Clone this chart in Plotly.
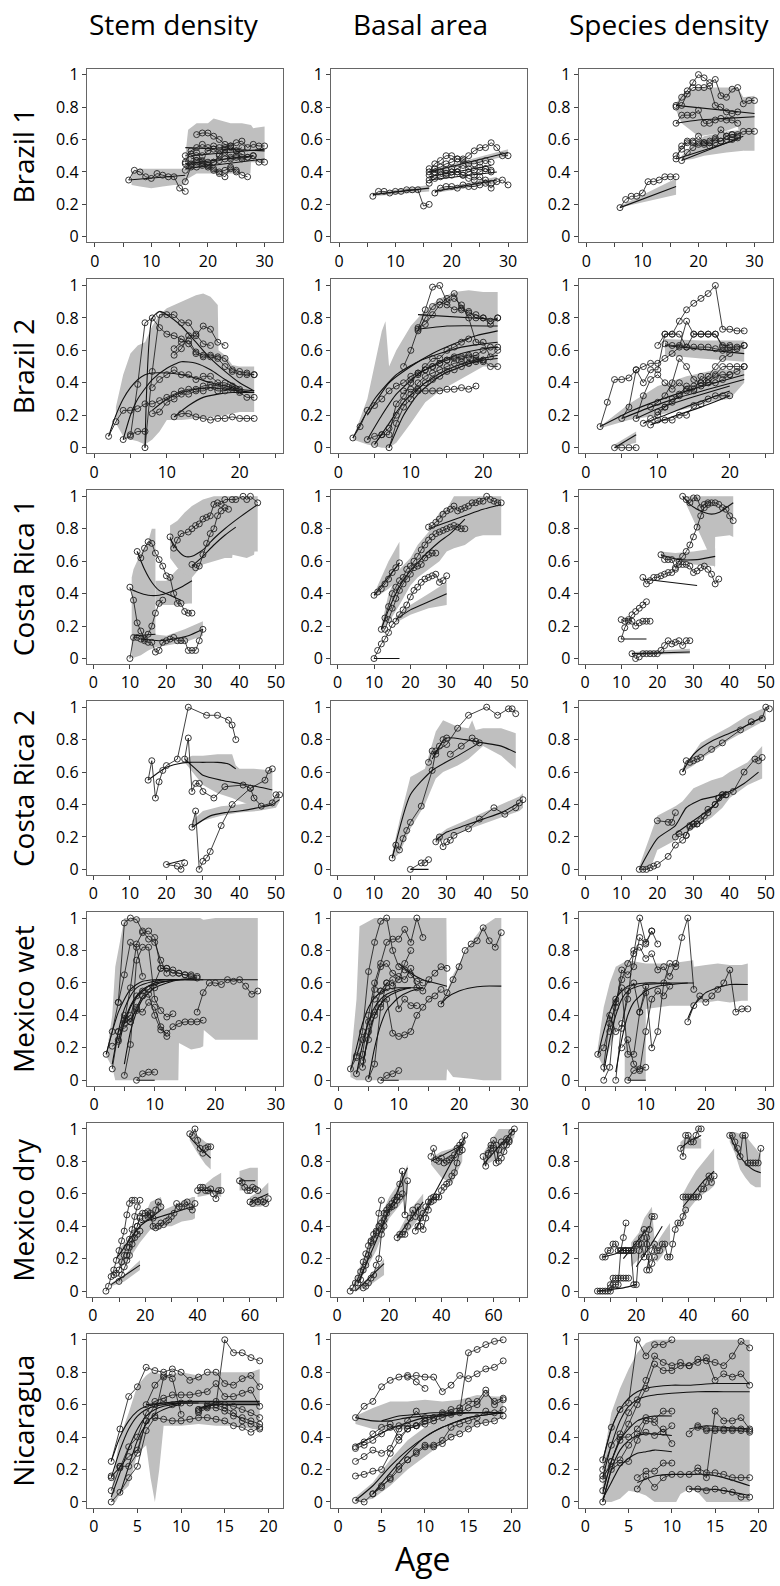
import plotly.graph_objects as go


def yrs(a, ys):
    return (list(range(a, a + len(ys))), ys)

# ---------------- Brazil 1 ----------------
B1S_OBS = [
    yrs(6, [0.35, 0.41, 0.40, 0.37, 0.36, 0.39, 0.38, 0.37, 0.37, 0.30, 0.28]),
    yrs(18, [0.63, 0.64, 0.64, 0.62, 0.60, 0.57, 0.56, 0.58, 0.59, 0.55, 0.57, 0.56, 0.56]),
    yrs(16, [0.46, 0.53, 0.55, 0.57, 0.55, 0.56, 0.55, 0.55, 0.56, 0.53, 0.55]),
    yrs(16, [0.41, 0.45, 0.47, 0.46, 0.44, 0.42, 0.40, 0.41, 0.43, 0.41, 0.38, 0.37]),
    yrs(16, [0.34, 0.43, 0.43, 0.44, 0.43, 0.41, 0.39, 0.37, 0.42, 0.40]),
    yrs(16, [0.50, 0.51, 0.52, 0.50, 0.53, 0.54, 0.51, 0.52, 0.48, 0.49, 0.48, 0.49, 0.50, 0.46, 0.46]),
    yrs(17, [0.48, 0.49, 0.47, 0.46, 0.46, 0.47, 0.48, 0.49, 0.50, 0.49, 0.49, 0.50]),
    yrs(16, [0.45, 0.44, 0.46, 0.45, 0.44, 0.46, 0.50, 0.54, 0.55, 0.53, 0.51]),
]
B1S_FIT = [([6, 16], [0.35, 0.38]), ([16, 30], [0.42, 0.48]), ([16, 30], [0.55, 0.53]),
           ([17, 30], [0.50, 0.54]), ([16, 28], [0.45, 0.50])]
B1S_BAND = [
    ([6.5, 8, 10, 12, 14, 16], [0.32, 0.31, 0.30, 0.31, 0.32, 0.32], [0.40, 0.42, 0.42, 0.42, 0.42, 0.42]),
    ([16, 16.5, 18, 20, 21, 24, 26, 27.5, 27.6, 28, 30],
     [0.33, 0.36, 0.39, 0.39, 0.39, 0.39, 0.39, 0.39, 0.46, 0.46, 0.46],
     [0.50, 0.66, 0.70, 0.70, 0.73, 0.70, 0.70, 0.69, 0.69, 0.67, 0.68]),
]

B1B_OBS = [
    yrs(6, [0.25, 0.28, 0.28, 0.27, 0.28, 0.28, 0.29, 0.29, 0.29, 0.19, 0.20]),
    yrs(16, [0.40, 0.45, 0.47, 0.50, 0.50, 0.48, 0.47, 0.50, 0.53, 0.55, 0.55, 0.58, 0.55, 0.50, 0.50]),
    yrs(16, [0.38, 0.42, 0.43, 0.45, 0.46, 0.48, 0.48, 0.45, 0.45, 0.46, 0.47, 0.46]),
    yrs(16, [0.35, 0.38, 0.40, 0.41, 0.40, 0.42, 0.44, 0.42, 0.38, 0.40, 0.42, 0.41]),
    yrs(16, [0.33, 0.36, 0.37, 0.38, 0.38, 0.40, 0.38, 0.36, 0.35, 0.37, 0.33, 0.30, 0.34, 0.35, 0.32]),
    yrs(17, [0.27, 0.30, 0.31, 0.31, 0.30, 0.32, 0.31, 0.31, 0.32, 0.35, 0.33]),
    yrs(16, [0.42, 0.40, 0.40, 0.39, 0.42, 0.40, 0.38, 0.40, 0.41, 0.43, 0.42, 0.40]),
]
B1B_FIT = [([6, 16], [0.26, 0.30]), ([16, 30], [0.40, 0.52]), ([16, 27], [0.37, 0.44]),
           ([17, 28], [0.28, 0.35]), ([16, 28], [0.35, 0.40])]
B1B_BAND = [([6, 16], [0.25, 0.28], [0.27, 0.32]), ([16, 30], [0.39, 0.50], [0.41, 0.54]),
            ([17, 28], [0.27, 0.33], [0.29, 0.37])]

B1D_OBS = [
    yrs(6, [0.18, 0.23, 0.25, 0.25, 0.27, 0.34, 0.34, 0.35, 0.37, 0.37, 0.37]),
    yrs(16, [0.80, 0.86, 0.90, 0.95, 1.00, 0.98, 0.95, 0.97, 0.87, 0.86, 0.91, 0.92, 0.82, 0.84, 0.84]),
    yrs(16, [0.81, 0.81, 0.88, 0.92, 0.92, 0.92, 0.93, 0.81, 0.80, 0.77, 0.76, 0.77]),
    yrs(16, [0.70, 0.75, 0.75, 0.75, 0.78, 0.70, 0.70, 0.72, 0.73, 0.72, 0.72, 0.70]),
    yrs(16, [0.48, 0.56, 0.59, 0.59, 0.62, 0.58, 0.58, 0.60, 0.66, 0.62, 0.63, 0.63, 0.65, 0.65, 0.65]),
    yrs(17, [0.47, 0.52, 0.55, 0.58, 0.57, 0.59, 0.61, 0.59, 0.60, 0.60, 0.61]),
    yrs(16, [0.50, 0.54, 0.58, 0.58, 0.57, 0.58, 0.56, 0.58, 0.59, 0.62, 0.63, 0.62]),
]
B1D_FIT = [([6, 16], [0.18, 0.31]), ([16, 30], [0.81, 0.76]), ([16, 20, 25, 30], [0.70, 0.72, 0.73, 0.74]),
           ([17, 28], [0.47, 0.62]), ([16, 27], [0.48, 0.60])]
B1D_BAND = [
    ([6, 16], [0.18, 0.26], [0.19, 0.36]),
    ([16, 17, 20, 24, 27, 28, 30], [0.78, 0.70, 0.62, 0.64, 0.68, 0.53, 0.53], [0.82, 0.88, 0.92, 0.92, 0.92, 0.86, 0.87]),
    ([17, 19, 21, 25, 28], [0.47, 0.48, 0.50, 0.52, 0.53], [0.50, 0.57, 0.62, 0.65, 0.66]),
]

# ---------------- Brazil 2 ----------------
B2S_OBS = [
    yrs(2, [0.07, 0.16, 0.23, 0.23, 0.24, 0.27, 0.27, 0.29, 0.31, 0.33, 0.35, 0.36, 0.36, 0.38, 0.39, 0.38, 0.37, 0.36, 0.35]),
    yrs(4, [0.05, 0.07, 0.39, 0.77, 0.80, 0.74, 0.70, 0.69, 0.67, 0.64, 0.58, 0.56, 0.56, 0.55, 0.50, 0.47, 0.45, 0.45, 0.45]),
    yrs(5, [0.08, 0.10, 0.10]),
    yrs(7, [0.00, 0.47, 0.82, 0.82, 0.82, 0.77, 0.77, 0.70, 0.64, 0.63]),
    yrs(8, [0.37, 0.42, 0.45, 0.48, 0.45, 0.45, 0.42, 0.44, 0.44, 0.40, 0.40, 0.38, 0.36]),
    yrs(8, [0.21, 0.22, 0.28, 0.30, 0.33, 0.33, 0.35, 0.35, 0.37, 0.35, 0.35, 0.37, 0.34, 0.31, 0.31]),
    yrs(11, [0.19, 0.21, 0.21, 0.19, 0.18, 0.17, 0.18, 0.18, 0.19, 0.18, 0.18, 0.18]),
    yrs(11, [0.57, 0.61, 0.69, 0.69, 0.75, 0.73, 0.65, 0.63]),
    yrs(11, [0.61, 0.65, 0.66, 0.59, 0.57, 0.57, 0.56, 0.55, 0.48, 0.47, 0.46, 0.45]),
]
B2S_FIT = [
    ([2, 3, 4, 5, 6, 7, 8, 10, 12, 14, 16, 18, 20, 22], [0.07, 0.20, 0.30, 0.37, 0.42, 0.45, 0.46, 0.46, 0.45, 0.43, 0.40, 0.38, 0.36, 0.35]),
    ([4, 5, 6, 8, 10, 12, 14, 16, 18, 20], [0.05, 0.20, 0.30, 0.42, 0.49, 0.53, 0.52, 0.48, 0.42, 0.37]),
    ([7, 8, 9, 10, 12, 14, 16, 18, 20, 22], [0.00, 0.80, 0.84, 0.82, 0.75, 0.65, 0.55, 0.47, 0.40, 0.35]),
    ([8, 10, 12, 14, 16, 18, 20, 22], [0.23, 0.30, 0.34, 0.36, 0.37, 0.36, 0.35, 0.34]),
    ([11, 13, 15, 17, 19, 22], [0.19, 0.26, 0.31, 0.33, 0.34, 0.34]),
]
B2S_BAND = [
    ([3, 4, 5, 6, 7, 8, 9, 10, 12, 14, 15, 16, 17, 17.1, 18, 19, 20, 22],
     [0.15, 0.07, 0.05, 0.04, 0.02, 0.05, 0.10, 0.17, 0.17, 0.18, 0.18, 0.19, 0.19, 0.19, 0.20, 0.21, 0.22, 0.22],
     [0.25, 0.45, 0.58, 0.63, 0.65, 0.75, 0.82, 0.86, 0.90, 0.94, 0.95, 0.93, 0.88, 0.60, 0.57, 0.51, 0.50, 0.50]),
]

B2B_OBS = [
    yrs(9, [0.50, 0.60, 0.73, 0.85, 0.99, 1.00, 0.90, 0.92, 0.88, 0.80, 0.65, 0.65, 0.56, 0.60]),
    yrs(11, [0.74, 0.76, 0.82, 0.88, 0.92, 0.95, 0.85, 0.83, 0.82, 0.80, 0.78, 0.80]),
    yrs(11, [0.72, 0.80, 0.87, 0.90, 0.88, 0.85, 0.86, 0.84, 0.80, 0.80, 0.76, 0.80]),
    yrs(2, [0.06, 0.13, 0.23, 0.26, 0.30, 0.35, 0.38, 0.40, 0.44, 0.46, 0.48, 0.50, 0.52, 0.54, 0.55, 0.56, 0.57, 0.55, 0.54, 0.50, 0.50]),
    yrs(4, [0.05, 0.07, 0.08, 0.08, 0.27, 0.32, 0.40, 0.46, 0.48, 0.50, 0.52, 0.54, 0.56, 0.55, 0.56, 0.57, 0.60, 0.62, 0.62]),
    yrs(5, [0.02, 0.08, 0.12, 0.20, 0.28, 0.33, 0.40, 0.44, 0.46, 0.48, 0.50, 0.52, 0.53, 0.52, 0.54, 0.54]),
    yrs(7, [0.00, 0.15, 0.25, 0.30, 0.36, 0.40, 0.42, 0.44, 0.47, 0.48, 0.50, 0.52, 0.53, 0.53]),
    yrs(9, [0.35, 0.36, 0.35, 0.35, 0.35, 0.35, 0.36, 0.36, 0.37, 0.36, 0.38]),
    yrs(10, [0.42, 0.45, 0.50, 0.55, 0.55, 0.60, 0.62, 0.65, 0.67]),
]
B2B_FIT = [
    ([11, 22], [0.82, 0.79]),
    ([11, 15, 22], [0.73, 0.75, 0.75]),
    ([4, 7, 10, 13, 16, 19, 22], [0.20, 0.40, 0.50, 0.58, 0.64, 0.69, 0.72]),
    ([2, 5, 8, 11, 14, 17, 20, 22], [0.06, 0.30, 0.45, 0.53, 0.58, 0.62, 0.64, 0.65]),
    ([4, 6, 8, 11, 14, 17, 20, 22], [0.05, 0.20, 0.33, 0.45, 0.53, 0.58, 0.61, 0.62]),
    ([5, 7, 9, 12, 15, 18, 22], [0.02, 0.15, 0.28, 0.40, 0.48, 0.53, 0.57]),
    ([7, 9, 11, 14, 17, 20, 22], [0.00, 0.20, 0.33, 0.44, 0.50, 0.54, 0.55]),
]
B2B_BAND = [
    ([2, 4, 6, 6.5, 7, 8, 10, 12, 14, 16, 18, 20, 22],
     [0.05, 0.02, 0.00, 0.00, 0.00, 0.03, 0.15, 0.28, 0.35, 0.40, 0.45, 0.50, 0.50],
     [0.06, 0.30, 0.72, 0.78, 0.50, 0.60, 0.75, 0.85, 0.92, 0.96, 0.97, 0.96, 0.96]),
]

B2D_OBS = [
    yrs(2, [0.13, 0.28, 0.42, 0.42, 0.43, 0.48, 0.50, 0.52, 0.52, 0.55, 0.58, 0.62, 0.78, 0.70, 0.70, 0.70, 0.70, 0.62, 0.62, 0.62, 0.63]),
    yrs(10, [0.63, 0.70, 0.70, 0.78, 0.85, 0.89, 0.92, 0.95, 1.00, 0.73, 0.73, 0.72, 0.72]),
    yrs(5, [0.18, 0.25, 0.48, 0.40, 0.48, 0.48, 0.70, 0.70, 0.70, 0.62, 0.70, 0.70, 0.70, 0.70, 0.63, 0.63]),
    yrs(4, [0.0, 0.0, 0.0, 0.0]),
    yrs(7, [0.18, 0.32, 0.42, 0.45, 0.40, 0.36, 0.40, 0.36, 0.35, 0.44, 0.42, 0.45, 0.50, 0.50, 0.50, 0.50]),
    yrs(8, [0.15, 0.18, 0.20, 0.25, 0.28, 0.32, 0.35, 0.36, 0.38, 0.40, 0.40, 0.42, 0.45, 0.47, 0.50]),
    yrs(9, [0.14, 0.17, 0.17, 0.17, 0.20, 0.20, 0.26, 0.27, 0.30, 0.32, 0.32, 0.32]),
    yrs(9, [0.25, 0.28, 0.32, 0.40, 0.55, 0.50, 0.42, 0.40, 0.44, 0.50, 0.55, 0.58]),
    yrs(10, [0.22, 0.25, 0.30, 0.33, 0.38, 0.38, 0.40, 0.40, 0.44, 0.45, 0.45]),
    yrs(11, [0.64, 0.63, 0.63, 0.62, 0.62, 0.62, 0.62, 0.61, 0.60, 0.60, 0.61, 0.63]),
]
B2D_FIT = [
    ([2, 6, 10, 14, 18, 22], [0.13, 0.22, 0.29, 0.35, 0.40, 0.45]),
    ([5, 9, 13, 17, 22], [0.18, 0.25, 0.31, 0.36, 0.42]),
    ([7, 10, 14, 20], [0.18, 0.24, 0.30, 0.38]),
    ([8, 11, 15, 20], [0.15, 0.20, 0.27, 0.35]),
    ([9, 12, 16, 20], [0.14, 0.19, 0.25, 0.32]),
    ([11, 22], [0.63, 0.58]),
    ([4, 7], [0.0, 0.08]),
]
B2D_BAND = [
    ([2, 6, 10, 14, 18, 20, 22], [0.12, 0.17, 0.20, 0.24, 0.29, 0.30, 0.40], [0.13, 0.27, 0.38, 0.44, 0.48, 0.48, 0.48]),
    ([11, 16, 22], [0.57, 0.55, 0.53], [0.67, 0.66, 0.66]),
    ([4, 7], [0.0, 0.03], [0.02, 0.10]),
]

# ---------------- Costa Rica 1 ----------------
C1S_OBS = [
    yrs(10, [0.0, 0.13, 0.13, 0.12, 0.11, 0.10, 0.10, 0.04, 0.05, 0.10, 0.11, 0.12, 0.13, 0.11, 0.11, 0.11, 0.05, 0.05, 0.05, 0.11, 0.18]),
    yrs(10, [0.44, 0.36, 0.22, 0.17, 0.12, 0.15, 0.20, 0.28, 0.34, 0.36]),
    yrs(12, [0.66, 0.62, 0.68, 0.72, 0.71, 0.65, 0.61, 0.57, 0.51, 0.50, 0.40, 0.34, 0.34, 0.29, 0.28, 0.28]),
    ([21, 22, 23, 24, 26, 27, 28, 29, 30, 31, 32, 33, 34, 35, 36, 38, 39, 41, 42, 43, 45],
     [0.75, 0.68, 0.73, 0.77, 0.78, 0.80, 0.82, 0.83, 0.86, 0.87, 0.88, 0.95, 0.96, 0.95, 0.98, 0.98, 0.98, 1.0, 0.98, 1.0, 0.96]),
    yrs(27, [0.58, 0.56, 0.57, 0.64, 0.71, 0.77, 0.80, 0.88, 0.91, 0.93, 0.92]),
]
C1S_FIT = [
    ([11, 17], [0.14, 0.15]),
    ([13, 18, 22, 26, 30], [0.12, 0.11, 0.12, 0.14, 0.18]),
    ([10, 12, 15, 18, 21, 24, 27], [0.43, 0.41, 0.39, 0.39, 0.41, 0.44, 0.48]),
    ([12, 14, 16, 18, 20, 22, 24], [0.66, 0.55, 0.47, 0.42, 0.40, 0.38, 0.36]),
    ([21, 23, 25, 27, 30, 33, 36, 40, 45], [0.74, 0.67, 0.63, 0.63, 0.67, 0.74, 0.80, 0.87, 0.95]),
    ([27, 30, 33, 36, 39], [0.57, 0.63, 0.70, 0.76, 0.81]),
]
C1S_BAND = [
    ([10.5, 11, 13, 15, 16, 17], [0.0, 0.0, 0.02, 0.05, 0.06, 0.07], [0.50, 0.55, 0.65, 0.72, 0.80, 0.80]),
    ([17, 20, 23, 26, 27], [0.33, 0.33, 0.33, 0.34, 0.34], [0.48, 0.48, 0.55, 0.60, 0.62]),
    ([21, 23, 25, 27, 30, 33, 36, 38, 38.1, 42, 44, 44.1, 45],
     [0.62, 0.56, 0.52, 0.50, 0.58, 0.60, 0.62, 0.62, 0.64, 0.62, 0.64, 0.66, 0.66],
     [0.82, 0.85, 0.90, 0.94, 0.98, 1.0, 1.0, 1.0, 1.0, 1.0, 1.0, 1.0, 1.0]),
    ([12, 17, 20, 25, 30], [0.08, 0.07, 0.08, 0.10, 0.14], [0.16, 0.15, 0.14, 0.18, 0.23]),
]

C1B_OBS = [
    yrs(10, [0.0, 0.05, 0.09, 0.12, 0.16, 0.21, 0.23, 0.27, 0.30, 0.33, 0.38, 0.42, 0.44, 0.47, 0.49, 0.50, 0.51, 0.52, 0.47, 0.48, 0.51]),
    yrs(10, [0.39, 0.41, 0.43, 0.46, 0.49, 0.53, 0.56, 0.59]),
    yrs(13, [0.18, 0.24, 0.31, 0.37, 0.42, 0.46, 0.49, 0.52, 0.56, 0.57, 0.58, 0.62, 0.64, 0.65, 0.65]),
    yrs(12, [0.18, 0.25, 0.32, 0.40, 0.44, 0.48, 0.50, 0.55, 0.57, 0.60, 0.63, 0.67, 0.70, 0.73, 0.75, 0.77, 0.78, 0.79, 0.80, 0.81, 0.82, 0.81, 0.80, 0.80]),
    yrs(25, [0.81, 0.82, 0.84, 0.86, 0.89, 0.91, 0.92, 0.94, 0.91, 0.92, 0.93, 0.94, 0.96, 0.96, 0.97, 0.97, 1.0, 0.98, 0.97, 0.96, 0.96]),
]
C1B_FIT = [
    ([10, 17], [0.0, 0.0]),
    ([10, 17], [0.39, 0.59]),
    ([16, 20, 25, 30], [0.24, 0.30, 0.35, 0.40]),
    ([12, 14, 16, 18, 20, 22, 25, 28, 31, 35], [0.18, 0.30, 0.40, 0.48, 0.54, 0.59, 0.66, 0.72, 0.77, 0.86]),
    ([25, 30, 35, 40, 45], [0.80, 0.84, 0.88, 0.92, 0.95]),
]
C1B_BAND = [
    ([10, 12, 14, 16, 17], [0.38, 0.40, 0.43, 0.47, 0.50], [0.40, 0.50, 0.60, 0.68, 0.72]),
    ([12, 14, 17, 20, 22, 25, 28, 30, 32, 35, 38, 40, 45],
     [0.17, 0.22, 0.33, 0.45, 0.50, 0.55, 0.60, 0.66, 0.68, 0.70, 0.75, 0.76, 0.76],
     [0.20, 0.40, 0.55, 0.62, 0.70, 0.78, 0.90, 0.92, 1.0, 1.0, 1.0, 1.0, 1.0]),
    ([16, 20, 25, 30], [0.22, 0.27, 0.31, 0.33], [0.26, 0.33, 0.40, 0.47]),
]

C1D_OBS = [
    yrs(10, [0.12, 0.19, 0.23, 0.27, 0.29, 0.31, 0.33, 0.35]),
    yrs(10, [0.24, 0.23, 0.24, 0.23, 0.20, 0.22, 0.23, 0.23, 0.23]),
    yrs(13, [0.03, 0.0, 0.01, 0.03, 0.03, 0.03, 0.03, 0.03, 0.05, 0.08, 0.11, 0.09, 0.10, 0.11, 0.08, 0.11, 0.11]),
    yrs(16, [0.50, 0.46, 0.48, 0.50, 0.50, 0.51, 0.52, 0.53, 0.53, 0.55, 0.58, 0.58, 0.58, 0.57, 0.53, 0.54, 0.56, 0.57, 0.55, 0.52, 0.46, 0.49]),
    yrs(21, [0.64, 0.61, 0.61, 0.61, 0.56, 0.60, 0.63, 0.66, 0.70, 0.75, 0.81, 0.88, 0.93, 0.95]),
    yrs(27, [1.0, 0.98, 0.96, 0.99, 0.99, 0.93, 0.95, 0.96, 0.96, 0.96, 0.95, 0.93, 0.92, 0.88, 0.85]),
]
C1D_FIT = [
    ([10, 17], [0.12, 0.12]),
    ([13, 29], [0.03, 0.04]),
    ([16, 31], [0.49, 0.45]),
    ([21, 26, 31, 36], [0.64, 0.61, 0.61, 0.63]),
    ([27, 29, 31, 33, 35, 37, 39, 41], [1.0, 0.95, 0.92, 0.90, 0.89, 0.90, 0.93, 0.96]),
]
C1D_BAND = [
    ([13, 29], [0.02, 0.03], [0.04, 0.06]),
    ([21, 25, 30, 36], [0.62, 0.60, 0.58, 0.57], [0.66, 0.65, 0.66, 0.68]),
    ([28, 30, 34, 35.9, 36, 40, 41], [0.95, 0.85, 0.66, 0.56, 0.75, 0.76, 0.75], [1, 1, 1, 1, 1, 1, 1]),
]

# ---------------- Costa Rica 2 ----------------
C2S_OBS = [
    ([15, 16, 17, 18, 19, 20, 23, 26, 31, 34, 37, 38, 39],
     [0.55, 0.67, 0.44, 0.54, 0.61, 0.64, 0.68, 1.0, 0.95, 0.95, 0.92, 0.89, 0.80]),
    ([25, 26, 27, 28, 29, 30, 33, 36, 41, 43, 44, 46, 49, 50, 51],
     [0.68, 0.81, 0.48, 0.53, 0.53, 0.48, 0.44, 0.51, 0.52, 0.50, 0.44, 0.39, 0.41, 0.46, 0.46]),
    ([27, 28, 29, 30, 31, 32, 35, 38, 43, 47, 48, 49],
     [0.26, 0.36, 0.0, 0.05, 0.07, 0.11, 0.27, 0.40, 0.50, 0.55, 0.61, 0.62]),
    ([20, 23, 24, 25], [0.03, 0.02, 0.0, 0.04]),
]
C2S_FIT = [
    ([15, 18, 20, 23, 26, 30, 34, 37, 39], [0.55, 0.60, 0.63, 0.65, 0.66, 0.66, 0.66, 0.65, 0.62]),
    ([25, 28, 30, 35, 40, 45, 49], [0.68, 0.62, 0.58, 0.55, 0.53, 0.51, 0.49]),
    ([27, 32, 36, 40, 45, 49, 51], [0.26, 0.33, 0.35, 0.36, 0.38, 0.40, 0.43]),
    ([20, 25], [0.03, 0.06]),
]
C2S_BAND = [
    ([25, 27, 30, 34, 38, 39, 40, 44, 49],
     [0.66, 0.60, 0.52, 0.47, 0.44, 0.43, 0.42, 0.39, 0.38],
     [0.68, 0.70, 0.70, 0.71, 0.71, 0.64, 0.62, 0.62, 0.61]),
    ([27, 30, 35, 40, 45, 50, 51], [0.25, 0.30, 0.33, 0.35, 0.36, 0.38, 0.42], [0.30, 0.36, 0.39, 0.40, 0.42, 0.44, 0.46]),
]

C2B_OBS = [
    ([15, 16, 17, 18, 19, 20, 23, 26, 27, 30, 33, 36, 41, 44, 47, 48, 49],
     [0.07, 0.15, 0.12, 0.19, 0.24, 0.29, 0.39, 0.61, 0.73, 0.77, 0.87, 0.95, 1.0, 0.95, 0.99, 0.99, 0.96]),
    ([25, 26, 27, 28, 29, 30], [0.66, 0.73, 0.71, 0.76, 0.80, 0.81]),
    ([31, 34, 37, 38, 39], [0.71, 0.76, 0.81, 0.79, 0.78]),
    ([27, 28, 29, 30, 31, 32, 36, 39, 43, 46, 49, 50, 51],
     [0.17, 0.20, 0.14, 0.17, 0.18, 0.21, 0.25, 0.31, 0.38, 0.34, 0.38, 0.41, 0.43]),
    ([20, 23, 24, 25], [0.0, 0.04, 0.04, 0.06]),
]
C2B_FIT = [
    ([15, 20, 26, 33, 39], [0.07, 0.46, 0.61, 0.70, 0.78]),
    ([26, 28, 30, 35, 40, 45, 49], [0.68, 0.76, 0.81, 0.80, 0.78, 0.76, 0.72]),
    ([27, 30, 35, 40, 45, 50], [0.18, 0.23, 0.27, 0.31, 0.35, 0.41]),
    ([20, 25], [0.0, 0.0]),
]
C2B_BAND = [
    ([15, 17, 20, 24, 27, 29, 33, 36, 37, 38, 40, 45, 49],
     [0.06, 0.10, 0.25, 0.40, 0.56, 0.60, 0.64, 0.68, 0.70, 0.72, 0.76, 0.70, 0.62],
     [0.10, 0.30, 0.57, 0.62, 0.85, 0.92, 0.88, 0.87, 0.92, 0.86, 0.87, 0.87, 0.84]),
    ([27, 30, 35, 40, 45, 50, 51], [0.16, 0.19, 0.24, 0.28, 0.32, 0.36, 0.38], [0.20, 0.25, 0.30, 0.35, 0.40, 0.45, 0.47]),
]

C2D_OBS = [
    ([15, 16, 17, 18, 19, 20, 23, 25, 27, 28, 29, 30, 31, 33, 34, 36, 37, 38, 39, 41, 44, 47, 48, 49],
     [0.0, 0.0, 0.0, 0.01, 0.02, 0.03, 0.08, 0.15, 0.18, 0.21, 0.26, 0.28, 0.28, 0.33, 0.37, 0.40, 0.44, 0.46, 0.46, 0.48, 0.60, 0.68, 0.67, 0.69]),
    ([20, 23, 24, 25], [0.30, 0.29, 0.29, 0.35]),
    ([25, 26, 28, 29, 30, 31, 32, 34, 36, 37, 38, 39], [0.20, 0.22, 0.21, 0.27, 0.28, 0.28, 0.30, 0.35, 0.40, 0.44, 0.46, 0.46]),
    ([27, 28, 29, 30, 31, 32, 35, 38, 43, 46, 49, 50, 51],
     [0.60, 0.67, 0.66, 0.67, 0.68, 0.69, 0.74, 0.78, 0.86, 0.91, 0.93, 1.0, 0.99]),
]
C2D_FIT = [
    ([15, 20, 25, 28, 32, 36, 40, 44, 48], [0.0, 0.19, 0.27, 0.38, 0.43, 0.45, 0.48, 0.53, 0.60]),
    ([27, 29, 31, 35, 40, 45, 49], [0.60, 0.68, 0.73, 0.79, 0.84, 0.89, 0.94]),
    ([25, 30, 35, 39], [0.22, 0.30, 0.38, 0.48]),
]
C2D_BAND = [
    ([15, 18, 20, 25, 27, 30, 35, 38, 40, 45, 49],
     [0.0, 0.0, 0.12, 0.18, 0.22, 0.25, 0.32, 0.38, 0.44, 0.52, 0.56],
     [0.02, 0.20, 0.33, 0.39, 0.42, 0.50, 0.55, 0.57, 0.60, 0.66, 0.76]),
    ([27, 30, 32, 35, 40, 45, 50], [0.60, 0.64, 0.68, 0.72, 0.80, 0.86, 0.92], [0.62, 0.72, 0.78, 0.82, 0.88, 0.95, 1.0]),
]

# ---------------- Mexico wet ----------------
MWS_OBS = [
    yrs(2, [0.16, 0.30, 0.48, 0.97, 1.0, 0.99, 0.92, 0.87, 0.85, 0.74, 0.66]),
    yrs(3, [0.07, 0.30, 0.37, 0.57, 0.84, 0.91, 0.92, 0.88, 0.69, 0.69, 0.66, 0.66, 0.65, 0.65, 0.64]),
    yrs(4, [0.48, 0.65, 0.85, 0.82, 0.64]),
    yrs(5, [0.03, 0.22, 0.74, 0.82, 0.82, 0.50, 0.43, 0.39, 0.41]),
    yrs(3, [0.21, 0.24, 0.40, 0.36, 0.45, 0.52, 0.53, 0.40, 0.31, 0.29, 0.33, 0.35, 0.36, 0.36, 0.36, 0.37]),
    yrs(4, [0.25, 0.35, 0.38, 0.43, 0.42, 0.48, 0.45, 0.33, 0.27]),
    yrs(7, [0.0, 0.04, 0.05, 0.05]),
    yrs(17, [0.42, 0.54, 0.60, 0.60, 0.59, 0.62, 0.61, 0.62, 0.58, 0.53, 0.55]),
    yrs(5, [0.38, 0.40, 0.52, 0.55, 0.56, 0.60, 0.69, 0.69, 0.68, 0.66, 0.65, 0.64, 0.63]),
    yrs(4, [0.30, 0.32, 0.36, 0.44, 0.52, 0.56, 0.57]),
]
MWS_FIT = [
    ([2, 3, 4, 5, 6, 7, 8, 10, 12, 15, 20, 27], [0.16, 0.30, 0.42, 0.50, 0.56, 0.59, 0.61, 0.62, 0.62, 0.62, 0.62, 0.62]),
    ([3, 4, 5, 6, 7, 8, 10, 12, 15, 18], [0.10, 0.30, 0.44, 0.52, 0.57, 0.59, 0.61, 0.62, 0.62, 0.62]),
    ([4, 5, 6, 7, 8, 10, 12, 14, 17], [0.20, 0.36, 0.46, 0.52, 0.56, 0.60, 0.61, 0.62, 0.62]),
    ([5, 6, 7, 8, 10, 12, 14, 17], [0.10, 0.30, 0.42, 0.50, 0.57, 0.60, 0.62, 0.63]),
    ([5, 6, 7, 8, 9, 10, 12, 14, 17], [0.35, 0.45, 0.51, 0.55, 0.58, 0.59, 0.61, 0.62, 0.62]),
    ([7, 10], [0.0, 0.0]),
]
MWS_BAND = [
    ([2, 3, 3.5, 4, 5, 6, 10, 13.9, 14, 16, 17.5, 18, 18.1, 20, 27],
     [0.15, 0.08, 0.0, 0.0, 0.0, 0.0, 0.0, 0.0, 0.23, 0.19, 0.20, 0.21, 0.31, 0.25, 0.25],
     [0.15, 0.40, 0.70, 0.80, 1.0, 1.0, 1.0, 1.0, 1.0, 1.0, 1.0, 0.99, 0.99, 1.0, 1.0]),
]

MWB_OBS = [
    yrs(2, [0.07, 0.14, 0.30, 0.67, 0.85, 0.98, 1.0, 0.80, 0.70, 0.68, 0.65, 0.61, 0.60]),
    yrs(3, [0.04, 0.16, 0.40, 0.60, 0.72, 0.85, 0.87, 0.87, 0.93, 0.85, 1.0, 0.88]),
    yrs(4, [0.08, 0.30, 0.56, 0.70, 0.72, 0.66, 0.64, 0.62, 0.69, 0.57, 0.55, 0.62, 0.66, 0.70, 0.69]),
    yrs(5, [0.01, 0.10, 0.45, 0.60, 0.62, 0.44, 0.50, 0.46, 0.46]),
    yrs(4, [0.12, 0.25, 0.40, 0.47, 0.50, 0.29, 0.27, 0.28, 0.30, 0.40, 0.45, 0.50, 0.52, 0.56]),
    yrs(7, [0.0, 0.03, 0.04, 0.06]),
    yrs(17, [0.47, 0.54, 0.62, 0.70, 0.80, 0.84, 0.86, 0.94, 0.86, 0.82, 0.91]),
    yrs(3, [0.15, 0.25, 0.36, 0.42, 0.55, 0.57]),
    yrs(6, [0.50, 0.55, 0.60, 0.58, 0.62, 0.72, 0.80]),
]
MWB_FIT = [
    ([2, 3, 4, 5, 6, 7, 8, 10, 12, 14], [0.06, 0.20, 0.35, 0.45, 0.51, 0.54, 0.56, 0.57, 0.57, 0.57]),
    ([3, 4, 5, 6, 7, 8, 10, 12], [0.04, 0.22, 0.36, 0.45, 0.50, 0.53, 0.56, 0.57]),
    ([4, 5, 6, 7, 8, 10, 12], [0.08, 0.28, 0.40, 0.47, 0.51, 0.55, 0.57]),
    ([5, 6, 7, 8, 10, 12, 14], [0.01, 0.20, 0.34, 0.43, 0.51, 0.55, 0.57]),
    ([10, 12, 14, 16, 18], [0.72, 0.66, 0.62, 0.60, 0.58]),
    ([17, 18, 20, 22, 24, 27], [0.47, 0.51, 0.55, 0.57, 0.58, 0.58]),
    ([7, 10], [0.0, 0.0]),
]
MWB_BAND = [
    ([2, 3, 3.5, 4, 6, 10, 17.9, 18, 19, 22, 24, 26, 27],
     [0.02, 0.0, 0.0, 0.0, 0.0, 0.0, 0.0, 0.07, 0.02, 0.01, 0.0, 0.0, 0.0],
     [0.10, 0.50, 0.95, 0.96, 1.0, 1.0, 1.0, 0.55, 0.65, 0.85, 0.95, 1.0, 1.0]),
]

MWD_OBS = [
    yrs(2, [0.16, 0.20, 0.35, 0.45, 0.68, 0.65, 0.70, 0.88, 0.84, 0.92, 0.84]),
    yrs(3, [0.0, 0.08, 0.48, 0.62, 0.72, 0.78, 1.0, 0.85, 0.92]),
    yrs(3, [0.08, 0.40, 0.30, 0.32, 0.55, 0.60, 0.42, 0.58, 0.20, 0.30, 0.60, 0.72, 0.70, 0.88, 1.0, 0.56]),
    yrs(4, [0.30, 0.50, 0.57, 0.16, 0.16, 0.42, 0.54]),
    yrs(5, [0.0, 0.35, 0.50, 0.80, 0.82, 0.75, 0.78, 0.68, 0.70, 0.64, 0.72]),
    yrs(7, [0.0, 0.06, 0.07, 0.08]),
    yrs(17, [0.36, 0.46, 0.52, 0.48, 0.52, 0.56, 0.60, 0.68, 0.42, 0.44, 0.44]),
    yrs(6, [0.20, 0.25, 0.10, 0.06, 0.30, 0.50, 0.55, 0.52, 0.58]),
]
MWD_FIT = [
    ([2, 3, 4, 5, 6, 7, 8, 10, 12, 15, 18], [0.15, 0.30, 0.42, 0.50, 0.55, 0.58, 0.59, 0.60, 0.60, 0.60, 0.60]),
    ([3, 4, 5, 6, 7, 8, 10, 14], [0.05, 0.25, 0.40, 0.50, 0.55, 0.57, 0.59, 0.60]),
    ([5, 6, 7, 8, 10, 12, 14, 17], [0.05, 0.25, 0.40, 0.48, 0.55, 0.58, 0.59, 0.60]),
    ([17, 18, 20, 22, 24, 27], [0.38, 0.46, 0.54, 0.57, 0.59, 0.59]),
    ([7, 10], [0.0, 0.0]),
]
MWD_BAND = [
    ([2, 3, 4, 5, 6, 7, 10, 14, 17.9, 18, 20, 22, 24, 26, 27],
     [0.15, 0.08, 0.20, 0.30, 0.38, 0.40, 0.44, 0.46, 0.46, 0.48, 0.48, 0.49, 0.48, 0.49, 0.49],
     [0.20, 0.45, 0.60, 0.70, 0.72, 0.74, 0.72, 0.72, 0.74, 0.70, 0.71, 0.72, 0.71, 0.71, 0.72]),
    ([6.5, 7, 8, 9, 10], [0.0, 0.0, 0.0, 0.0, 0.0], [0.40, 0.42, 0.44, 0.46, 0.46]),
]

# ---------------- Mexico dry ----------------
MDS_OBS = [
    yrs(5, [0.0, 0.03, 0.09, 0.13, 0.19, 0.25, 0.31, 0.37, 0.47, 0.54, 0.56, 0.56]),
    yrs(8, [0.10, 0.11, 0.13, 0.18, 0.22, 0.27, 0.32, 0.38, 0.46, 0.52, 0.56]),
    yrs(10, [0.06, 0.10, 0.15, 0.19, 0.22, 0.29, 0.33, 0.35, 0.37]),
    yrs(17, [0.40, 0.46, 0.48, 0.48, 0.49, 0.47, 0.45, 0.50, 0.55, 0.52]),
    yrs(20, [0.45, 0.46, 0.48, 0.40, 0.39, 0.40, 0.42, 0.41, 0.43, 0.44, 0.46, 0.48, 0.54, 0.52, 0.52, 0.54, 0.55, 0.52, 0.50, 0.54]),
    yrs(13, [0.22, 0.27, 0.32, 0.36, 0.40, 0.45]),
    yrs(37, [0.97, 0.96, 1.0, 0.93, 0.88, 0.85, 0.88, 0.89, 0.89]),
    yrs(40, [0.62, 0.64, 0.64, 0.62, 0.62, 0.63, 0.60, 0.57, 0.62, 0.62]),
    yrs(56, [0.68, 0.67, 0.64, 0.62, 0.62, 0.64, 0.63, 0.62]),
    yrs(60, [0.55, 0.54, 0.56, 0.55, 0.56, 0.55, 0.54, 0.57]),
]
MDS_FIT = [
    ([7, 18], [0.04, 0.16]),
    ([9, 12, 15, 18, 22, 26], [0.20, 0.27, 0.34, 0.40, 0.45, 0.50]),
    ([18, 22, 26, 30, 34, 38], [0.42, 0.44, 0.46, 0.48, 0.50, 0.52]),
    ([37, 41, 45], [0.95, 0.88, 0.82]),
    ([40, 45, 49], [0.62, 0.62, 0.61]),
    ([56, 62], [0.68, 0.68]),
    ([60, 67], [0.55, 0.60]),
]
MDS_BAND = [
    ([7, 12, 18], [0.03, 0.06, 0.13], [0.05, 0.10, 0.19]),
    ([10, 14, 18, 22, 26, 27, 30, 34, 38, 39],
     [0.13, 0.20, 0.30, 0.38, 0.38, 0.40, 0.40, 0.43, 0.44, 0.45],
     [0.26, 0.33, 0.40, 0.55, 0.58, 0.50, 0.52, 0.55, 0.58, 0.58]),
    ([37, 40, 43, 45], [0.93, 0.85, 0.78, 0.75], [0.98, 0.96, 0.92, 0.90]),
    ([40, 43, 46, 49], [0.58, 0.59, 0.60, 0.58], [0.64, 0.66, 0.70, 0.73]),
    ([56, 60, 63], [0.62, 0.62, 0.62], [0.74, 0.76, 0.76]),
    ([60, 64, 67], [0.52, 0.52, 0.54], [0.58, 0.62, 0.67]),
]

MDB_OBS = [
    yrs(5, [0.0, 0.02, 0.05, 0.08, 0.12, 0.18, 0.23, 0.28, 0.31, 0.35, 0.37, 0.48, 0.56]),
    yrs(8, [0.05, 0.07, 0.13, 0.16, 0.22, 0.30, 0.32, 0.36, 0.40, 0.42, 0.48, 0.50, 0.52, 0.54, 0.56, 0.58, 0.66, 0.74, 0.47, 0.68]),
    yrs(10, [0.02, 0.03, 0.05, 0.08, 0.10, 0.16, 0.20, 0.35, 0.40]),
    yrs(17, [0.38, 0.44, 0.48, 0.51, 0.52, 0.53, 0.56, 0.58, 0.60]),
    yrs(23, [0.33, 0.35, 0.35, 0.35, 0.40, 0.45, 0.50, 0.46, 0.52, 0.40, 0.38, 0.45, 0.50, 0.55, 0.58, 0.58]),
    yrs(30, [0.37, 0.40, 0.45, 0.48, 0.52, 0.55, 0.57, 0.56, 0.58, 0.58, 0.62, 0.64, 0.66, 0.67, 0.71, 0.73, 0.79, 0.86, 0.87, 0.96]),
    yrs(36, [0.83, 0.88, 0.81, 0.80, 0.82, 0.79, 0.80, 0.81, 0.82, 0.84, 0.88, 0.90, 0.92]),
    yrs(56, [0.83, 0.77, 0.85, 0.88, 0.88, 0.79, 0.87, 0.92, 0.90, 0.94, 0.92, 0.98, 1.0]),
    yrs(58, [0.84, 0.90, 0.93, 0.90, 0.80, 0.82, 0.86, 0.90, 0.93]),
]
MDB_FIT = [
    ([7, 18], [0.0, 0.17]),
    ([8, 27], [0.05, 0.76]),
    ([23, 33], [0.33, 0.55]),
    ([36, 48], [0.80, 0.90]),
    ([30, 49], [0.38, 0.95]),
    ([56, 68], [0.78, 1.0]),
]
MDB_BAND = [
    ([7, 12, 18], [0.0, 0.03, 0.10], [0.02, 0.08, 0.20]),
    ([6, 10, 15, 20, 25, 27], [0.0, 0.10, 0.25, 0.45, 0.55, 0.60], [0.04, 0.20, 0.40, 0.58, 0.70, 0.78]),
    ([23, 28, 33], [0.30, 0.38, 0.48], [0.35, 0.50, 0.60]),
    ([36, 40, 44, 48], [0.78, 0.70, 0.66, 0.80], [0.82, 0.86, 0.88, 0.92]),
    ([56, 62, 68], [0.77, 0.82, 0.95], [0.85, 1.0, 1.0]),
]

MDD_OBS = [
    yrs(5, [0.0, 0.0, 0.0, 0.0, 0.0, 0.0]),
    yrs(7, [0.21, 0.21, 0.25, 0.25, 0.29, 0.29, 0.25, 0.25, 0.33, 0.42]),
    yrs(10, [0.04, 0.08, 0.08, 0.08, 0.08, 0.08, 0.08, 0.08]),
    yrs(10, [0.02, 0.04, 0.04, 0.04, 0.25, 0.25, 0.25, 0.25, 0.25, 0.04, 0.04, 0.25, 0.29, 0.21, 0.29, 0.38, 0.46, 0.46]),
    yrs(15, [0.25, 0.25, 0.25, 0.25, 0.25, 0.29, 0.29, 0.33, 0.38, 0.33, 0.13, 0.17, 0.21]),
    yrs(24, [0.13, 0.21, 0.25, 0.29, 0.25, 0.25, 0.29, 0.29, 0.21, 0.21, 0.29, 0.38, 0.42, 0.42, 0.46, 0.50]),
    yrs(38, [0.58, 0.58, 0.58, 0.58, 0.58, 0.58, 0.58, 0.63, 0.63, 0.67, 0.71, 0.67, 0.71]),
    yrs(37, [0.88, 0.83, 0.96, 0.96, 0.92, 0.92, 0.96, 1.0, 1.0]),
    yrs(56, [0.96, 0.96, 0.92, 0.88, 0.83, 0.96, 0.96, 0.79, 0.79, 0.79, 0.79, 0.79, 0.88]),
]
MDD_FIT = [
    ([5, 10, 15, 20], [0.0, 0.01, 0.02, 0.04]),
    ([7, 12, 16], [0.21, 0.23, 0.27]),
    ([15, 20, 25], [0.20, 0.30, 0.40]),
    ([20, 25, 30], [0.15, 0.27, 0.40]),
    ([38, 42, 46, 50], [0.52, 0.60, 0.68, 0.74]),
    ([37, 41, 45], [0.88, 0.93, 0.96]),
    ([56, 58, 60, 62, 64, 66, 68], [0.96, 0.89, 0.83, 0.79, 0.76, 0.74, 0.73]),
]
MDD_BAND = [
    ([18, 21, 23, 25, 26, 27, 28, 30, 32, 33],
     [0.15, 0.20, 0.22, 0.28, 0.30, 0.20, 0.18, 0.22, 0.28, 0.30],
     [0.30, 0.36, 0.45, 0.50, 0.52, 0.32, 0.30, 0.35, 0.40, 0.42]),
    ([38, 40, 43, 46, 48, 50], [0.44, 0.50, 0.56, 0.60, 0.62, 0.65], [0.60, 0.66, 0.74, 0.80, 0.84, 0.88]),
    ([37, 40, 45], [0.88, 0.88, 0.88], [0.92, 0.96, 0.94]),
    ([56, 58, 60, 62, 64, 66, 68], [0.92, 0.85, 0.75, 0.70, 0.66, 0.64, 0.64], [0.98, 0.98, 0.97, 0.96, 0.92, 0.88, 0.84]),
]

# ---------------- Nicaragua ----------------
NIS_OBS = [
    yrs(2, [0.25, 0.45, 0.65, 0.71, 0.83, 0.81, 0.80, 0.82, 0.80, 0.75, 0.77, 0.80, 0.80, 0.73, 0.72, 0.76, 0.78, 0.71]),
    yrs(2, [0.16, 0.21, 0.34, 0.40, 0.55, 0.62, 0.64, 0.66, 0.66, 0.66, 0.67, 0.68, 0.73, 0.65, 0.65, 0.67, 0.69, 0.59]),
    yrs(2, [0.07, 0.22, 0.22, 0.30, 0.50, 0.53, 0.77, 0.79]),
    yrs(2, [0.0, 0.06, 0.15, 0.22, 0.44, 0.52, 0.51, 0.50, 0.50, 0.51, 0.52, 0.52, 0.51, 0.50, 0.47, 0.46, 0.43, 0.46]),
    yrs(2, [0.15, 0.22, 0.28, 0.32, 0.50, 0.60, 0.62, 0.60, 0.61, 0.61]),
    yrs(12, [0.57, 0.60, 0.60, 1.0, 0.92, 0.92, 0.89, 0.87]),
    yrs(12, [0.55, 0.58, 0.58, 0.56, 0.53, 0.52, 0.50, 0.48]),
    yrs(12, [0.56, 0.59, 0.62, 0.60, 0.59, 0.57, 0.55, 0.52]),
    yrs(6, [0.60, 0.72, 0.78, 0.76, 0.54]),
    yrs(12, [0.57, 0.59, 0.60, 0.58, 0.55, 0.50, 0.48, 0.45]),
]
NIS_FIT = [
    ([2, 3, 4, 5, 6, 7, 8, 10, 12, 15, 19], [0.25, 0.40, 0.50, 0.56, 0.59, 0.60, 0.61, 0.61, 0.61, 0.61, 0.61]),
    ([2, 3, 4, 5, 6, 7, 8, 10, 12], [0.15, 0.32, 0.45, 0.53, 0.57, 0.59, 0.60, 0.61, 0.61]),
    ([2, 3, 4, 5, 6, 7, 8, 9, 10], [0.03, 0.18, 0.33, 0.45, 0.53, 0.57, 0.59, 0.60, 0.61]),
    ([3, 4, 5, 6, 7, 8, 9, 10], [0.05, 0.22, 0.38, 0.48, 0.54, 0.57, 0.59, 0.60]),
    ([6, 8, 10, 12, 14, 16, 19], [0.60, 0.61, 0.62, 0.62, 0.62, 0.62, 0.62]),
    ([12, 14, 16, 19], [0.58, 0.60, 0.60, 0.60]),
]
NIS_BAND = [
    ([2, 2.5, 3, 4, 5, 6, 6.5, 7, 7.5, 8, 10, 12, 14, 16, 18, 19],
     [0.0, 0.0, 0.05, 0.10, 0.30, 0.35, 0.15, 0.0, 0.20, 0.47, 0.47, 0.48, 0.47, 0.47, 0.45, 0.45],
     [0.05, 0.25, 0.40, 0.55, 0.72, 0.78, 0.80, 0.80, 0.79, 0.78, 0.80, 0.78, 0.80, 0.80, 0.80, 0.82]),
]

NIB_OBS = [
    yrs(2, [0.52, 0.59, 0.62, 0.71, 0.75, 0.77, 0.78, 0.74, 0.70]),
    yrs(8, [0.77, 0.78, 0.77, 0.77, 0.68, 0.72, 0.78, 0.76, 0.79, 0.82, 0.83, 0.87]),
    yrs(2, [0.33, 0.35, 0.38, 0.42, 0.46, 0.47, 0.47, 0.47, 0.48, 0.50, 0.52, 0.54, 0.56, 0.92, 0.94, 0.97, 0.99, 1.0]),
    yrs(2, [0.25, 0.28, 0.32, 0.30, 0.33, 0.45, 0.50, 0.56, 0.50, 0.52, 0.55, 0.57, 0.58, 0.62, 0.62, 0.69, 0.60, 0.63]),
    yrs(2, [0.16, 0.17, 0.19, 0.20, 0.30, 0.38, 0.45, 0.47, 0.52, 0.52, 0.54, 0.55, 0.55, 0.58, 0.60, 0.67, 0.62, 0.64]),
    yrs(2, [0.01, 0.0, 0.05, 0.09, 0.15, 0.22, 0.26, 0.31, 0.35, 0.35, 0.38, 0.46, 0.48, 0.50, 0.52, 0.56, 0.55, 0.57]),
    yrs(4, [0.05, 0.10, 0.14, 0.20, 0.26, 0.30, 0.34, 0.34, 0.36, 0.40, 0.42, 0.45, 0.48, 0.49, 0.50, 0.53]),
    yrs(2, [0.34, 0.37, 0.42, 0.46, 0.48, 0.40, 0.45, 0.47, 0.50]),
]
NIB_FIT = [
    ([5, 7, 9, 11, 13, 15, 17, 19], [0.50, 0.53, 0.54, 0.55, 0.55, 0.55, 0.55, 0.55]),
    ([2, 4, 6, 8, 10, 12, 14, 16, 19], [0.52, 0.50, 0.50, 0.52, 0.53, 0.54, 0.55, 0.55, 0.55]),
    ([2, 4, 6, 8, 10, 12, 15, 19], [0.35, 0.40, 0.45, 0.49, 0.52, 0.53, 0.55, 0.55]),
    ([2, 4, 6, 8, 10, 12, 15, 19], [0.01, 0.10, 0.22, 0.32, 0.40, 0.46, 0.52, 0.55]),
    ([4, 6, 8, 10, 12, 15, 19], [0.05, 0.18, 0.30, 0.40, 0.46, 0.52, 0.55]),
]
NIB_BAND = [
    ([2, 4, 6, 8, 10, 12, 14, 16, 18, 19],
     [0.48, 0.45, 0.44, 0.45, 0.47, 0.48, 0.50, 0.53, 0.52, 0.52],
     [0.53, 0.58, 0.62, 0.62, 0.63, 0.62, 0.63, 0.66, 0.65, 0.65]),
    ([2, 4, 6, 8, 10, 12, 14, 16, 19],
     [0.0, 0.02, 0.10, 0.20, 0.28, 0.36, 0.43, 0.48, 0.52],
     [0.03, 0.12, 0.26, 0.38, 0.46, 0.50, 0.53, 0.56, 0.58]),
]

NID_OBS = [
    yrs(2, [0.26, 0.46, 0.57, 0.61, 1.0, 0.90, 0.97, 0.97, 1.0]),
    yrs(2, [0.20, 0.35, 0.42, 0.55, 0.63, 0.75, 0.90, 0.86, 0.84, 0.86, 0.84, 0.86, 0.89, 0.75, 0.79, 0.77, 0.79, 0.72]),
    yrs(2, [0.14, 0.25, 0.38, 0.48, 0.60, 0.70, 0.85, 0.81, 0.81, 0.84, 0.84, 0.88, 0.87, 0.86, 0.84, 0.90, 0.99, 0.95]),
    yrs(2, [0.07, 0.25, 0.40, 0.40, 0.45, 0.52, 0.51, 0.56, 0.56]),
    yrs(2, [0.16, 0.22, 0.26, 0.35, 0.42, 0.43, 0.41, 0.45, 0.36]),
    yrs(2, [0.0, 0.20, 0.24, 0.25, 0.38, 0.50, 0.49, 0.43, 0.47]),
    yrs(6, [0.15, 0.19, 0.19, 0.24, 0.24]),
    yrs(6, [0.08, 0.16, 0.09, 0.15, 0.17, 0.17, 0.17, 0.21, 0.18, 0.18, 0.17, 0.15, 0.15, 0.15]),
    yrs(12, [0.42, 0.47, 0.45, 0.45, 0.45, 0.45, 0.45, 0.44]),
    yrs(13, [0.19, 0.15, 0.56, 0.50, 0.50, 0.52, 0.45]),
    yrs(12, [0.08, 0.08, 0.07, 0.08, 0.07, 0.06, 0.03, 0.03]),
    yrs(13, [0.46, 0.44, 0.44, 0.44, 0.44, 0.44, 0.43]),
]
NID_FIT = [
    ([2, 3, 4, 5, 6, 7, 8, 10, 12, 15, 19], [0.25, 0.45, 0.57, 0.64, 0.68, 0.70, 0.71, 0.72, 0.72, 0.73, 0.73]),
    ([2, 3, 4, 5, 6, 7, 8, 10, 13, 16, 19], [0.15, 0.35, 0.50, 0.59, 0.63, 0.65, 0.66, 0.67, 0.68, 0.68, 0.68]),
    ([2, 3, 4, 5, 6, 7, 8, 10], [0.05, 0.25, 0.38, 0.45, 0.50, 0.52, 0.53, 0.53]),
    ([2, 3, 4, 5, 6, 7, 8, 10], [0.0, 0.20, 0.32, 0.38, 0.41, 0.42, 0.42, 0.41]),
    ([2, 3, 4, 5, 6, 7, 8, 10], [0.02, 0.12, 0.22, 0.27, 0.30, 0.31, 0.32, 0.31]),
    ([6, 8, 10, 12, 14, 16, 19], [0.12, 0.16, 0.17, 0.17, 0.17, 0.15, 0.10]),
    ([12, 14, 16, 19], [0.08, 0.08, 0.07, 0.04]),
    ([12, 14, 16, 19], [0.45, 0.47, 0.46, 0.45]),
]
NID_BAND = [
    ([2, 3, 4, 5, 6, 7, 8, 10, 10.5, 11, 12, 13, 14, 15, 19],
     [0.0, 0.0, 0.02, 0.07, 0.06, 0.04, 0.0, 0.0, 0.0, 0.05, 0.08, 0.06, 0.0, 0.0, 0.0],
     [0.25, 0.55, 0.70, 0.82, 0.92, 0.98, 1.0, 1.0, 1.0, 1.0, 1.0, 1.0, 1.0, 1.0, 1.0]),
]

# ---------------- axes / labels ----------------
ROW_NAMES = ["Brazil 1", "Brazil 2", "Costa Rica 1", "Costa Rica 2", "Mexico wet", "Mexico dry", "Nicaragua"]
COL_NAMES = ["Stem density", "Basal area", "Species density"]
X_RANGES = [[-1.4, 33.3], [-1.0, 26.0], [-1.8, 52.0], [-1.8, 52.0], [-1.2, 31.2], [-2.3, 72.7], [-0.8, 21.7]]
X_TICKVALS = [
    [0, 5, 10, 15, 20, 25, 30], [0, 5, 10, 15, 20, 25], [0, 10, 20, 30, 40, 50], [0, 10, 20, 30, 40, 50],
    [0, 5, 10, 15, 20, 25, 30], [0, 10, 20, 30, 40, 50, 60, 70], [0, 5, 10, 15, 20],
]
X_TICKTEXT = [
    ["0", "", "10", "", "20", "", "30"], ["0", "", "10", "", "20", ""], ["0", "10", "20", "30", "40", "50"],
    ["0", "10", "20", "30", "40", "50"], ["0", "", "10", "", "20", "", "30"],
    ["0", "", "20", "", "40", "", "60", ""], ["0", "5", "10", "15", "20"],
]
Y_TICKVALS = [0, 0.2, 0.4, 0.6, 0.8, 1.0]
Y_TICKTEXT = ["0", "0.2", "0.4", "0.6", "0.8", "1"]

PANELS = [
    [(B1S_OBS, B1S_FIT, B1S_BAND), (B1B_OBS, B1B_FIT, B1B_BAND), (B1D_OBS, B1D_FIT, B1D_BAND)],
    [(B2S_OBS, B2S_FIT, B2S_BAND), (B2B_OBS, B2B_FIT, B2B_BAND), (B2D_OBS, B2D_FIT, B2D_BAND)],
    [(C1S_OBS, C1S_FIT, C1S_BAND), (C1B_OBS, C1B_FIT, C1B_BAND), (C1D_OBS, C1D_FIT, C1D_BAND)],
    [(C2S_OBS, C2S_FIT, C2S_BAND), (C2B_OBS, C2B_FIT, C2B_BAND), (C2D_OBS, C2D_FIT, C2D_BAND)],
    [(MWS_OBS, MWS_FIT, MWS_BAND), (MWB_OBS, MWB_FIT, MWB_BAND), (MWD_OBS, MWD_FIT, MWD_BAND)],
    [(MDS_OBS, MDS_FIT, MDS_BAND), (MDB_OBS, MDB_FIT, MDB_BAND), (MDD_OBS, MDD_FIT, MDD_BAND)],
    [(NIS_OBS, NIS_FIT, NIS_BAND), (NIB_OBS, NIB_FIT, NIB_BAND), (NID_OBS, NID_FIT, NID_BAND)],
]

# ---------------- figure ----------------
W, H = 780, 1586
FONT = "Open Sans"
BAND_COLOR = "#bfbfbf"
COL_PX = [(87, 284), (332, 528), (580, 775)]
ROW_TOP0, ROW_PITCH, ROW_H = 64, 212.2, 175

fig = go.Figure()
layout_axes = {}
for r in range(7):
    top = ROW_TOP0 + r * ROW_PITCH
    bot = top + ROW_H
    for c in range(3):
        idx = r * 3 + c + 1
        sx = "" if idx == 1 else str(idx)
        xref, yref = "x" + sx, "y" + sx
        obs, fits, bands = PANELS[r][c]
        for bx, lo, hi in bands:
            fig.add_trace(go.Scatter(
                x=list(bx) + list(bx)[::-1], y=list(hi) + list(lo)[::-1],
                mode="lines", fill="toself", fillcolor=BAND_COLOR, line=dict(width=0),
                hoverinfo="skip", showlegend=False, xaxis=xref, yaxis=yref))
        for fx, fy in fits:
            fig.add_trace(go.Scatter(
                x=fx, y=fy, mode="lines", line=dict(color="#111111", width=1.1, shape="spline", smoothing=0.6),
                hoverinfo="skip", showlegend=False, xaxis=xref, yaxis=yref))
        for ox, oy in obs:
            fig.add_trace(go.Scatter(
                x=ox, y=oy, mode="lines+markers", line=dict(color="#111111", width=0.8),
                marker=dict(symbol="circle-open", size=6, color="#222222", line=dict(width=0.9)),
                hoverinfo="skip", showlegend=False, xaxis=xref, yaxis=yref))
        axis_common = dict(showline=True, mirror=True, linecolor="#666666", linewidth=1,
                           ticks="outside", ticklen=4, tickwidth=1, tickcolor="#444444",
                           showgrid=False, zeroline=False,
                           tickfont=dict(family=FONT, size=16, color="#000000"))
        layout_axes["xaxis" + sx] = dict(
            domain=[COL_PX[c][0] / W, COL_PX[c][1] / W], anchor=yref, range=X_RANGES[r],
            tickmode="array", tickvals=X_TICKVALS[r], ticktext=X_TICKTEXT[r], **axis_common)
        layout_axes["yaxis" + sx] = dict(
            domain=[1 - bot / H, 1 - top / H], anchor=xref, range=[-0.035, 1.037],
            tickmode="array", tickvals=Y_TICKVALS, ticktext=Y_TICKTEXT, **axis_common)

annotations = []
COL_TITLE_X = [174, 422, 671]
for c, name in enumerate(COL_NAMES):
    annotations.append(dict(text=name, x=COL_TITLE_X[c] / W, y=1 - 19 / H, xref="paper", yref="paper",
                            xanchor="center", yanchor="middle", showarrow=False,
                            font=dict(family=FONT, size=28, color="#000000")))
for r, name in enumerate(ROW_NAMES):
    cy = ROW_TOP0 + r * ROW_PITCH + ROW_H / 2
    annotations.append(dict(text=name, x=23 / W, y=1 - cy / H, xref="paper", yref="paper",
                            xanchor="center", yanchor="middle", textangle=-90, showarrow=False,
                            font=dict(family=FONT, size=28, color="#000000")))
annotations.append(dict(text="Age", x=424 / W, y=1 - 1563 / H, xref="paper", yref="paper",
                        xanchor="center", yanchor="middle", showarrow=False,
                        font=dict(family=FONT, size=32, color="#000000")))

fig.update_layout(width=W, height=H, margin=dict(l=0, r=0, t=0, b=0),
                  paper_bgcolor="white", plot_bgcolor="white", showlegend=False,
                  annotations=annotations, **layout_axes)

fig.write_html("out.html", config={"displayModeBar": False, "staticPlot": True},
               post_script="document.body.style.margin='0';document.body.style.padding='0';"
                           "document.documentElement.style.overflow='hidden';")
